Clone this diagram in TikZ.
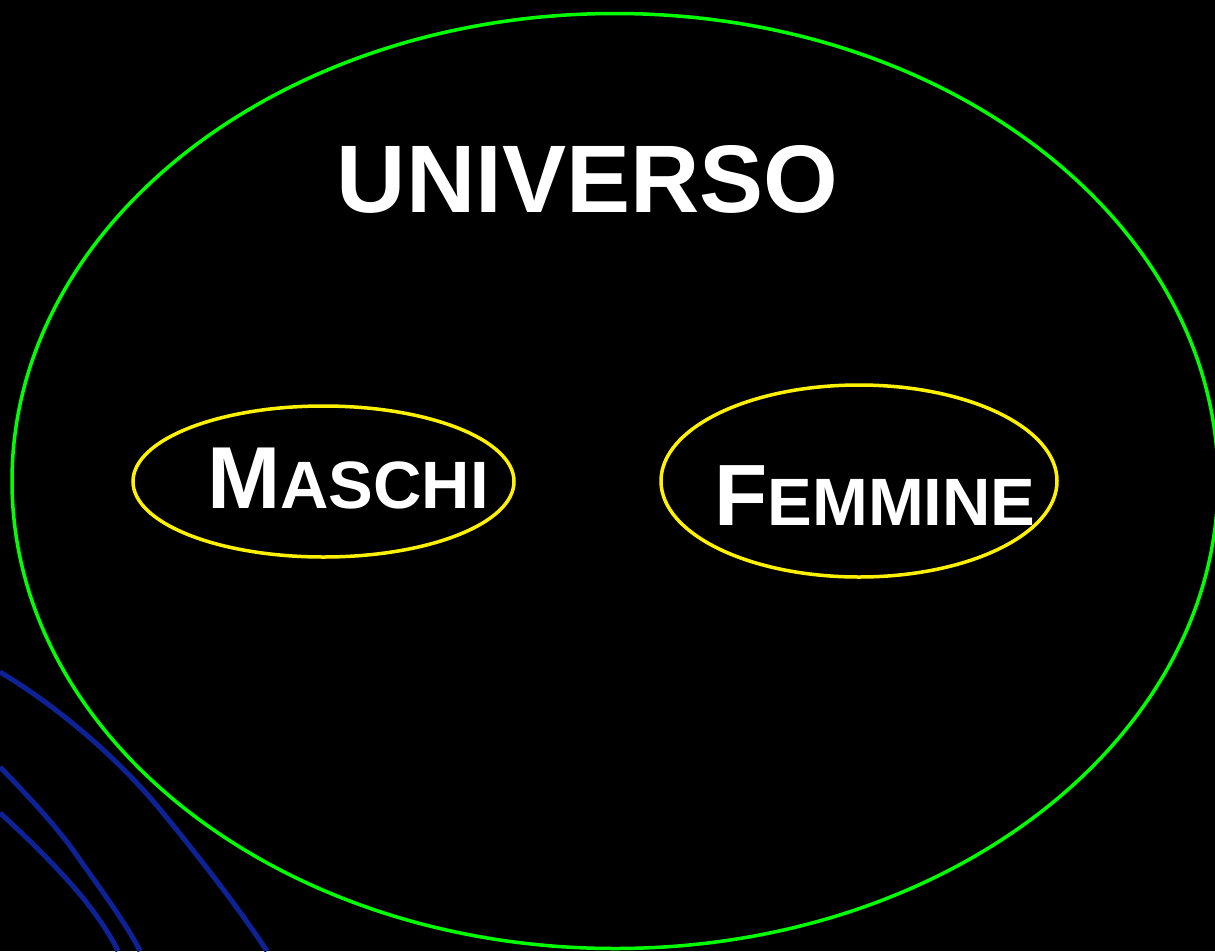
\documentclass[tikz,border=0pt]{standalone}
\usepackage{fontspec}
\setmainfont{Liberation Sans}
\usetikzlibrary{shapes.geometric}
\definecolor{decoblue}{RGB}{14,34,150}
\begin{document}
\begin{tikzpicture}[x=1pt,y=-1pt,
  bluecurve/.style={draw=decoblue, line width=5pt},
  setring/.style={ellipse, draw=yellow, line width=3.5pt, inner sep=0pt},
  univring/.style={ellipse, draw=green, line width=3.5pt, inner sep=0pt},
  label/.style={text=white, font=\bfseries, inner sep=0pt, anchor=base}]
\fill[black] (0,0) rectangle (1215,951);
\useasboundingbox (0,0) rectangle (1215,951);
% blue decorative curves
\draw[bluecurve] (0,672) .. controls (60,708) and (120,760) .. (163,813)
  .. controls (200,858) and (240,910) .. (267,951);
\draw[bluecurve] (0,767) .. controls (30,798) and (60,830) .. (80,860)
  .. controls (105,895) and (130,930) .. (140,951);
\draw[bluecurve] (0,813) .. controls (30,840) and (70,880) .. (90,907)
  .. controls (100,920) and (112,938) .. (118,951);
% sets
\node[univring, minimum width=1206pt, minimum height=935pt] (univ) at (615,481) {};
\node[setring, minimum width=381pt, minimum height=151pt] (maschi) at (323.5,481.5) {};
\node[setring, minimum width=396pt, minimum height=192pt] (femmine) at (859,481) {};
% labels
\node[label, font=\bfseries\fontsize{96}{96}\selectfont] (tuniv) at (587.5,212) {UNIVERSO};
\node[label, font=\bfseries\fontsize{88}{88}\selectfont] (tmaschi) at (348,508) {M{\fontsize{67}{67}\selectfont ASCHI}};
\node[label, font=\bfseries\fontsize{87}{87}\selectfont] (tfemmine) at (875,525) {F{\fontsize{67}{67}\selectfont EMMINE}};
\end{tikzpicture}
\end{document}
